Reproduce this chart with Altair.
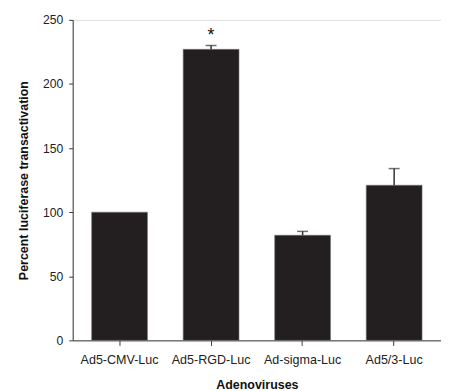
import altair as alt
import pandas as pd

categories = ["Ad5-CMV-Luc", "Ad5-RGD-Luc", "Ad-sigma-Luc", "Ad5/3-Luc"]
means = [100, 227, 82, 121]
upper = [100, 230, 85, 134]
marks = ["", "*", "", ""]

df = pd.DataFrame({"cat": categories, "mean": means, "upper": upper, "mark": marks})
FONT = "Liberation Sans"
AX = "#3a3a3a"

x = alt.X("cat:N", sort=categories, title="Adenoviruses",
          scale=alt.Scale(paddingInner=0.39, paddingOuter=0.207),
          axis=alt.Axis(labelAngle=0, labelFont=FONT, labelFontSize=12.6, labelColor="#222",
                        titleFont=FONT, titleFontSize=12.5, titleFontWeight="bold", titleColor="#111",
                        domainColor=AX, tickColor=AX, tickSize=5, labelPadding=8, titlePadding=13))
y = alt.Y("mean:Q", title="Percent luciferase transactivation",
          scale=alt.Scale(domain=[0, 250], nice=False),
          axis=alt.Axis(values=[0, 50, 100, 150, 200, 250], grid=False, labelFont=FONT,
                        labelFontSize=12.2, labelColor="#222", titleFont=FONT, titleFontSize=12.5,
                        titleFontWeight="bold", titleColor="#111", domainColor=AX, tickColor=AX,
                        tickSize=4, labelPadding=6, titlePadding=12))

base = alt.Chart(df)
bars = base.mark_bar(color="#231f20", stroke="#777", strokeWidth=0.6).encode(x=x, y=y)
errs = base.transform_filter("datum.upper > datum.mean").mark_rule(color="#333", strokeWidth=1.5).encode(
    x=alt.X("cat:N", sort=categories), y="mean:Q", y2="upper:Q")
caps = base.transform_filter("datum.upper > datum.mean").mark_tick(
    color="#333", orient="horizontal", size=11, thickness=1.5).encode(
    x=alt.X("cat:N", sort=categories), y="upper:Q")
star = base.mark_text(font=FONT, fontSize=18, dy=-10, color="#111", baseline="middle").encode(
    x=alt.X("cat:N", sort=categories), y="upper:Q", text="mark:N")

chart = alt.layer(bars, errs, caps, star).properties(
    width=370, height=322, padding={"left": 65, "top": 11, "right": 0, "bottom": 60},
    autosize=alt.AutoSizeParams(type="none")
).configure_view(stroke=None).configure(background="white")

chart.save("out.html", embed_options={"renderer": "svg", "actions": False})
